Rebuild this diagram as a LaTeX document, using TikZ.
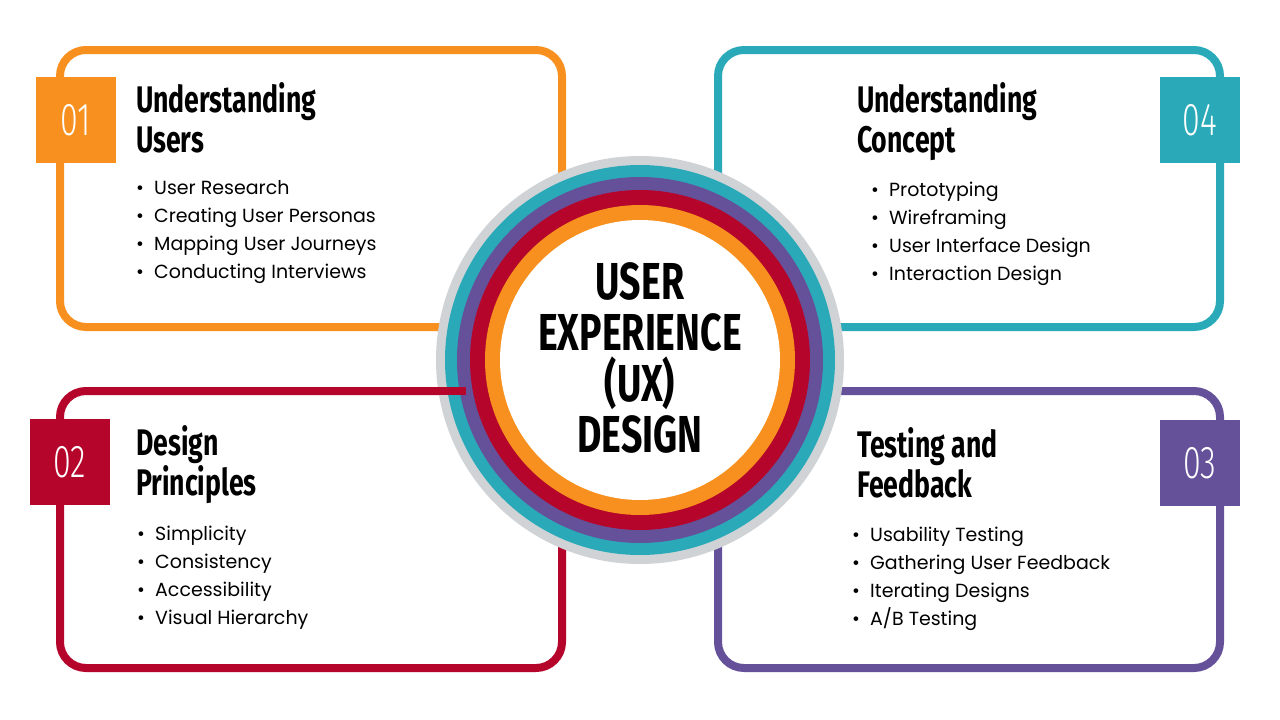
\documentclass[tikz,border=0pt]{standalone}
\usepackage{fontspec}
\setmainfont{Poppins}
\newfontfamily\hfont[FakeStretch=0.72]{Fira Sans}
\newfontfamily\nfont[FakeStretch=0.7]{Fira Sans Light}
\definecolor{uorange}{HTML}{F7901E}
\definecolor{uteal}{HTML}{2AAAB8}
\definecolor{ured}{HTML}{B5052B}
\definecolor{upurple}{HTML}{65509A}
\definecolor{ugray}{HTML}{D0D3D6}
\begin{document}
\begin{tikzpicture}[x=1pt,y=-1pt,
  panel/.style={line width=8pt,rounded corners=26pt},
  numbox/.style={minimum width=80pt,minimum height=86pt,inner sep=0pt,text=white,font=\nfont\fontsize{46}{46}\selectfont},
  head/.style={anchor=north west,align=left,inner sep=0pt,font=\hfont\bfseries\fontsize{37}{40}\selectfont},
  blist/.style={anchor=north west,align=left,inner sep=0pt,font=\fontsize{19}{28}\selectfont},
  ctext/.style={align=center,inner sep=0pt,font=\hfont\bfseries\fontsize{52}{51}\selectfont}]
\useasboundingbox (0,0) rectangle (1280,720);
\fill[white] (0,0) rectangle (1280,720);
% panels
\draw[panel,uorange] (60,50) rectangle (562,327);
\draw[panel,uteal] (718,50) rectangle (1220,327);
\draw[panel,ured] (60,391) rectangle (562,668);
\draw[panel,upurple] (718,391) rectangle (1220,668);
% centre rings
\coordinate (c) at (640,360);
\fill[ugray] (c) circle (204);
\fill[uteal] (c) circle (195);
\fill[upurple] (c) circle (183);
\fill[ured] (c) circle (170);
\fill[uorange] (c) circle (155);
\fill[white] (c) circle (140);
\coordinate (rl) at (330,391);
\coordinate (rr) at (466,391);
\draw[ured,line width=8pt] (rl) -- (rr);
\node[ctext] (ct) at (640,358) {USER\\EXPERIENCE\\(UX)\\DESIGN};
% number boxes
\node[numbox,fill=uorange] (n1) at (76,120) {01};
\node[numbox,fill=uteal] (n4) at (1200,120) {04};
\node[numbox,fill=ured] (n2) at (70,462) {02};
\node[numbox,fill=upurple] (n3) at (1200,463) {03};
% headings
\node[head] (h1) at (136,82) {Understanding\\Users};
\node[head] (h4) at (857,82) {Understanding\\Concept};
\node[head] (h2) at (136,425) {Design\\Principles};
\node[head] (h3) at (857,427) {Testing and\\Feedback};
% bullet lists
\node[blist] (b1) at (136,180) {\textbullet\ \ User Research\\\textbullet\ \ Creating User Personas\\\textbullet\ \ Mapping User Journeys\\\textbullet\ \ Conducting Interviews};
\node[blist] (b4) at (871,182) {\textbullet\ \ Prototyping\\\textbullet\ \ Wireframing\\\textbullet\ \ User Interface Design\\\textbullet\ \ Interaction Design};
\node[blist] (b2) at (137,526) {\textbullet\ \ Simplicity\\\textbullet\ \ Consistency\\\textbullet\ \ Accessibility\\\textbullet\ \ Visual Hierarchy};
\node[blist] (b3) at (852,527) {\textbullet\ \ Usability Testing\\\textbullet\ \ Gathering User Feedback\\\textbullet\ \ Iterating Designs\\\textbullet\ \ A/B Testing};
\end{tikzpicture}
\end{document}
